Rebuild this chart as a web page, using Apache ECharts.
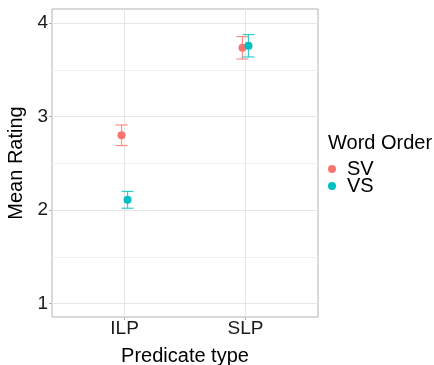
<!DOCTYPE html>
<html><head><meta charset="utf-8">
<script src="https://cdn.jsdelivr.net/npm/echarts@6/dist/echarts.min.js"></script>
<style>html,body{margin:0;padding:0;background:#fff}#c{width:434px;height:365px}</style>
</head><body><div id="c"></div>
<script>
const categories = ['ILP', 'SLP'];
const groups = ['SV', 'VS'];
const svMean = [2.80, 3.735];
const svErr = [0.11, 0.12];
const vsMean = [2.11, 3.757];
const vsErr = [0.09, 0.12];
const yTicks = [1, 2, 3, 4];
const yMinor = [1.5, 2.5, 3.5];
const colors = ['#F8766D', '#00BFC4'];

const dodge = 0.025;
const FONT = 'Liberation Sans, Arial, sans-serif';
const means = [svMean, vsMean];
const errs = [svErr, vsErr];

function pts(g) {
  const off = g === 0 ? -dodge : dodge;
  return categories.map((c, i) => [i + 1 + off, means[g][i]]);
}
function errData(g) {
  const off = g === 0 ? -dodge : dodge;
  return categories.map((c, i) => [i + 1 + off, means[g][i] - errs[g][i], means[g][i] + errs[g][i]]);
}
function errSeries(g) {
  return {
    type: 'custom', xAxisIndex: 0, yAxisIndex: 0, z: 2, silent: true,
    data: errData(g),
    renderItem: function (params, api) {
      const x = api.value(0), lo = api.value(1), hi = api.value(2);
      const pLo = api.coord([x, lo]), pHi = api.coord([x, hi]);
      const hw = 6;
      const style = { stroke: colors[g], lineWidth: 1.2, opacity: 0.8 };
      return { type: 'group', children: [
        { type: 'line', shape: { x1: pLo[0], y1: pLo[1], x2: pHi[0], y2: pHi[1] }, style: style },
        { type: 'line', shape: { x1: pLo[0] - hw, y1: pLo[1], x2: pLo[0] + hw, y2: pLo[1] }, style: style },
        { type: 'line', shape: { x1: pHi[0] - hw, y1: pHi[1], x2: pHi[0] + hw, y2: pHi[1] }, style: style }
      ]};
    }
  };
}

const chart = echarts.init(document.getElementById('c'), null, { renderer: 'canvas' });
chart.setOption({
  animation: false,
  backgroundColor: '#fff',
  grid: { left: 52, right: 116, top: 9, bottom: 48, outerBoundsMode: 'none', containLabel: false, show: true, borderColor: '#b3b3b3', borderWidth: 1, backgroundColor: 'transparent' },
  xAxis: [{
    type: 'value', min: 0.4, max: 2.6,
    name: 'Predicate type', nameLocation: 'middle', nameGap: 29,
    nameTextStyle: { fontFamily: FONT, fontSize: 20, color: '#000' },
    axisLine: { show: false },
    axisTick: { show: true, length: 3, lineStyle: { color: '#b3b3b3' }, customValues: [1, 2] },
    axisLabel: { customValues: [1, 2], formatter: v => categories[Math.round(v) - 1], fontFamily: FONT, fontSize: 19, color: '#1a1a1a', margin: 2 },
    splitLine: { show: true, lineStyle: { color: '#e6e6e6', width: 1 } }
  }],
  yAxis: [{
    type: 'value', min: 0.857, max: 4.15,
    name: 'Mean Rating', nameLocation: 'middle', nameGap: 24,
    nameTextStyle: { fontFamily: FONT, fontSize: 20, color: '#000' },
    axisLine: { show: false },
    axisTick: { show: true, length: 3, lineStyle: { color: '#b3b3b3' }, customValues: yTicks },
    axisLabel: { customValues: yTicks, fontFamily: FONT, fontSize: 19, color: '#1a1a1a', margin: 4 },
    splitLine: { show: true, lineStyle: { color: '#e6e6e6', width: 1 } }
  }, {
    type: 'value', min: 0.857, max: 4.15, position: 'left',
    axisLine: { show: false }, axisLabel: { show: false },
    axisTick: { show: false, customValues: yMinor },
    splitLine: { show: true, lineStyle: { color: '#f0f0f0', width: 1 } }
  }],
  legend: {
    orient: 'vertical', left: 328, top: 159, padding: 0,
    data: groups, icon: 'circle', itemWidth: 8, itemHeight: 8, itemGap: -3,
    textStyle: { fontFamily: FONT, fontSize: 20, color: '#000', padding: [0, 0, 0, 6] }
  },
  graphic: [{
    type: 'text', left: 328, top: 133,
    style: { text: 'Word Order', font: '20px ' + FONT, fill: '#000' }
  }],
  series: [
    errSeries(0), errSeries(1),
    { name: groups[0], type: 'scatter', xAxisIndex: 0, yAxisIndex: 0, z: 3, symbol: 'circle', symbolSize: 8, itemStyle: { color: colors[0], opacity: 1 }, data: pts(0) },
    { name: groups[1], type: 'scatter', xAxisIndex: 0, yAxisIndex: 0, z: 3, symbol: 'circle', symbolSize: 8, itemStyle: { color: colors[1], opacity: 1 }, data: pts(1) }
  ]
});
</script></body></html>
